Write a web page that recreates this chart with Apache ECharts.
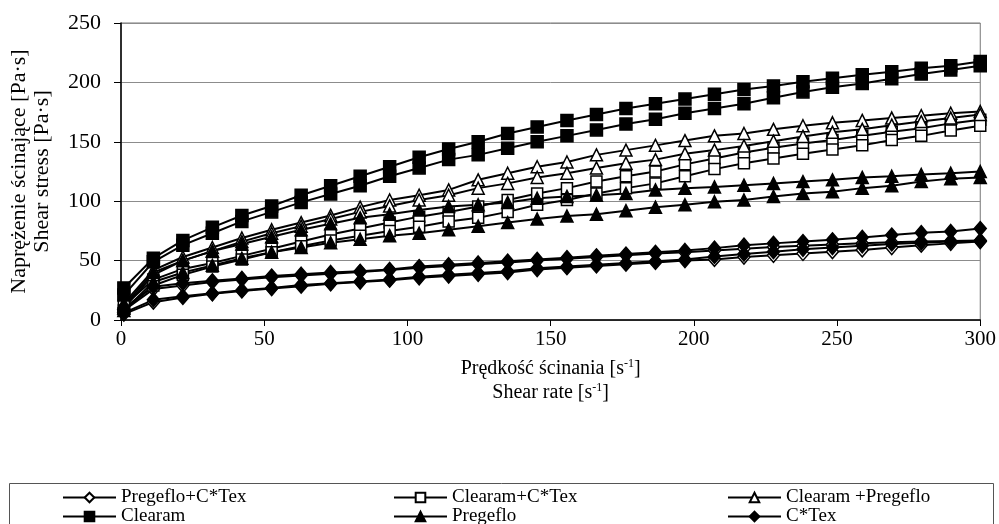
<!DOCTYPE html>
<html>
<head>
<meta charset="utf-8">
<script src="https://cdn.jsdelivr.net/npm/echarts@6/dist/echarts.min.js"></script>
<style>
  html, body { margin: 0; padding: 0; background: #fff; }
  #chart { width: 999px; height: 524px; }
</style>
</head>
<body>
<div id="chart"></div>
<script>
// shear rate points [1/s]
const shear_rate = [1, 11.3, 21.6, 31.9, 42.2, 52.6, 62.9, 73.2, 83.5, 93.8,
    104.1, 114.4, 124.7, 135.0, 145.3, 155.7, 166.0, 176.3, 186.6, 196.9,
    207.2, 217.5, 227.8, 238.1, 248.4, 258.8, 269.1, 279.4, 289.7, 300];

// shear stress, two curves per sample (up / down)
const pc_up = [8, 26, 29, 32, 34, 36, 37.5, 39, 40.5, 42, 44, 45.5, 47, 48.5, 50, 51.5, 53, 54.5, 56, 57, 58.5, 60, 61.5, 62.5, 63.5, 64.5, 65.5, 66, 66.5, 67];
const pc_down = [5, 15, 19, 22, 24.5, 26.5, 28.5, 30.5, 32, 33.5, 35.5, 37, 38.5, 40, 42.5, 44, 45.5, 47, 48.5, 50, 51, 53, 54.5, 56, 57.5, 59, 61, 63, 64.5, 66];
const cc_up = [12, 34, 43, 48, 54, 60, 66, 72, 77, 82, 87, 91, 95.5, 101, 106.5, 111, 116.5, 121, 125, 131, 136, 141, 145, 148.5, 151.5, 155, 158.5, 161.5, 165.5, 168.5];
const cc_down = [8, 29, 38, 45, 51, 57, 62, 67, 71, 75, 78.5, 83, 86, 91, 97, 101, 106.5, 111, 115, 121, 127, 132, 136, 140, 143.5, 147, 151.5, 155, 159.5, 163.5];
const cp_up = [14, 42, 53, 61, 69, 76, 82, 88, 95, 101, 105, 109.5, 118, 123.5, 129, 133, 139, 143, 147, 151, 155, 157, 160.5, 163.5, 166, 168, 170, 172, 174, 175.5];
const cp_down = [10, 38, 50, 58, 66, 73, 79, 85, 91, 96, 101, 105, 111, 115, 120, 123.5, 128, 132, 135, 140, 143, 146.5, 150.5, 154.5, 158, 160.5, 164, 167, 170, 173];
const clearam_up = [27, 52, 67, 78, 88, 96, 105, 113, 121, 129, 137, 144, 150, 157, 162.5, 168, 173, 178, 182, 186, 190, 194, 197, 200.5, 203.5, 206.5, 209, 212, 214, 217.5];
const clearam_down = [21, 49, 63, 73, 83, 91, 99, 106, 113, 121, 128, 135, 139, 144.5, 150, 155, 160, 165, 169, 174, 178, 182, 187, 192, 196, 199, 203, 207, 210.5, 214];
const preg_up = [12, 40, 50, 58, 64, 70, 76, 81, 86, 89, 92.5, 95.5, 97, 99, 102.5, 104, 105, 106.5, 109.5, 111, 112, 113.5, 115, 116.5, 118, 120, 121, 122.5, 123.5, 125];
const preg_down = [8, 32, 40, 46, 52, 57, 61, 65, 68, 71, 73, 76, 79, 82, 85, 87.5, 89, 92, 95, 97, 99.5, 101, 104, 106.5, 108, 111, 113, 116.5, 119, 120];
const ctex_up = [10, 28, 31, 33, 35, 37, 38.5, 40, 41, 42.5, 45, 46.5, 48, 49.5, 51, 52.5, 54, 55.5, 57, 58.5, 60.5, 63, 64.5, 66, 67.5, 69.5, 71.5, 73.5, 74.5, 77];
const ctex_down = [6, 17, 20, 22.5, 25, 27, 29.5, 31, 32.5, 34, 36.5, 38, 39.5, 41, 43.5, 45, 46.5, 48, 49.5, 51, 53.5, 55.5, 57.5, 59.5, 61, 62.5, 64, 65, 66, 66.5];

const names = ['Pregeflo+C*Tex', 'Clearam+C*Tex', 'Clearam +Pregeflo', 'Clearam', 'Pregeflo', 'C*Tex'];
const curves = [[pc_up, pc_down], [cc_up, cc_down], [cp_up, cp_down],
    [clearam_up, clearam_down], [preg_up, preg_down], [ctex_up, ctex_down]];
const symbols = ['diamond', 'rect', 'triangle', 'rect', 'triangle', 'diamond'];
const filled = [false, false, false, true, true, true];
const symbol_sizes = [[12, 14], 11, 12, 12, 12, [12, 14]];

const font = 'Liberation Serif';

let series = [];
for (let i = 0; i < names.length; i++) {
    for (let k = 0; k < 2; k++) {
        series.push({
            name: names[i],
            type: 'line',
            data: curves[i][k].map((v, j) => [shear_rate[j], v]),
            symbol: symbols[i],
            symbolSize: symbol_sizes[i],
            showAllSymbol: true,
            lineStyle: { color: '#000', width: 2 },
            itemStyle: {
                color: filled[i] ? '#000' : '#fff',
                borderColor: '#000',
                borderWidth: 1.5,
            },
            emphasis: { disabled: true },
        });
    }
}

// one legend per entry, 3 columns x 2 rows
const legend_cols = [62, 393, 727];
const legend_rows = [488, 507];
let legends = names.map((name, i) => ({
    data: [name],
    left: legend_cols[i % 3],
    top: legend_rows[Math.floor(i / 3)],
    padding: 0,
    itemWidth: 53, itemHeight: 12,
    textStyle: { fontFamily: font, fontSize: 19, color: '#000', lineHeight: 19 },
}));

const option = {
    animation: false,
    backgroundColor: '#fff',
    grid: {
        left: 120, right: 18, top: 23, bottom: 204,
        show: true, borderColor: '#777', borderWidth: 1,
    },
    xAxis: {
        type: 'value',
        min: 0, max: 300, interval: 50,
        axisLine: { lineStyle: { color: '#000', width: 1.5 } },
        axisTick: { show: true, length: 6, lineStyle: { color: '#000' } },
        axisLabel: { fontFamily: font, fontSize: 21, color: '#000', margin: 9 },
        splitLine: { show: false },
        name: '{t|Prędkość ścinania [s}{sup|-1}{t|]}\n{t|Shear rate [s}{sup|-1}{t|]}',
        nameLocation: 'middle',
        nameGap: 37,
        nameTextStyle: {
            rich: {
                t: { fontFamily: font, fontSize: 20, color: '#000', lineHeight: 24 },
                sup: { fontFamily: font, fontSize: 12, color: '#000', lineHeight: 24, padding: [0, 0, 10, 0] },
            },
        },
    },
    yAxis: {
        type: 'value',
        min: 0, max: 250, interval: 50,
        axisLine: { show: true, lineStyle: { color: '#000', width: 1.5 } },
        axisTick: { show: true, length: 7, lineStyle: { color: '#000' } },
        axisLabel: { fontFamily: font, fontSize: 22, color: '#000', margin: 20 },
        splitLine: { show: true, lineStyle: { color: '#8c8c8c', width: 1 } },
        name: 'Naprężenie ścinające [Pa·s]\nShear stress [Pa·s]',
        nameLocation: 'middle',
        nameRotate: 90,
        nameGap: 67,
        nameTextStyle: { fontFamily: font, fontSize: 22, color: '#000', lineHeight: 23 },
    },
    legend: legends,
    graphic: [{
        type: 'rect',
        left: 7, top: 481,
        shape: { x: 0, y: 0, width: 984, height: 60 },
        style: { fill: 'none', stroke: '#555', lineWidth: 1 },
        silent: true,
    }],
    series: series,
};

const chart = echarts.init(document.getElementById('chart'));
chart.setOption(option);
</script>
</body>
</html>
